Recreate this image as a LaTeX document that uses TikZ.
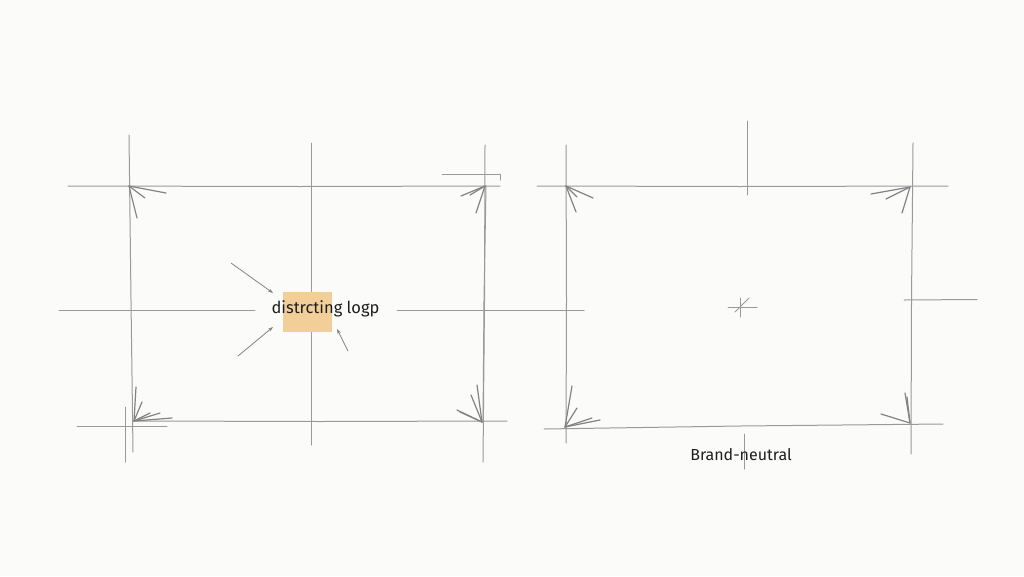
\documentclass[tikz,border=0pt]{standalone}
\usepackage{fontspec}
\setmainfont{Fira Sans}
\usetikzlibrary{arrows.meta}
\definecolor{paper}{HTML}{FBFBFA}
\definecolor{pencil}{HTML}{9A9A9A}
\definecolor{pencildark}{HTML}{838383}
\definecolor{hilite}{HTML}{F2CF98}
\definecolor{ink}{HTML}{1E1E1E}
\tikzset{
  guide/.style={draw=pencil, line width=1pt, line cap=round},
  stroke/.style={draw=pencildark, line width=1.2pt, line cap=round},
  pointer/.style={draw=pencildark, line width=0.8pt, -{Stealth[length=5pt,width=3.5pt]}},
  hand/.style={text=ink, inner sep=0pt},
}
\begin{document}
\begin{tikzpicture}[x=1pt,y=-1pt]
\useasboundingbox (0,0) rectangle (1024,576);
\fill[paper] (0,0) rectangle (1024,576);

% ---------- left frame ----------
\path[guide] (68,186) -- (300,186.5) -- (500,186);
\path[guide] (442,174) -- (500,174) -- (500,180);
\path[guide] (129,135) -- (131,300) -- (133,452);
\path[guide] (125,407) -- (125,462);
\path[guide] (135,421) -- (320,421.5) -- (507,421);
\path[guide] (77,426) -- (167,426);
\path[guide] (485,145) -- (484.5,300) -- (483,462);
\path[guide] (486,186) -- (484,300) -- (483,421);
\path[guide] (311,143) -- (311,445);
\path[guide] (59,310) -- (255,310);
\path[guide] (397,310) -- (584,310);

% highlight and label
\fill[hilite] (283,292) rectangle (332,332);
\node[hand, font=\fontsize{16.5}{20}\selectfont] (logo) at (325.5,309) {distrcting logp};
\coordinate (p1s) at (231,263);
\coordinate (p1e) at (273,293);
\coordinate (p2s) at (238,356);
\coordinate (p2e) at (273,327);
\coordinate (p3s) at (348,351);
\coordinate (p3e) at (337,329);
\draw[pointer] (p1s) -- (p1e);
\draw[pointer] (p2s) -- (p2e);
\draw[pointer] (p3s) -- (p3e);

% corner strokes left frame
\foreach \e in {(166,193),(145,198),(137,218)} \draw[stroke] (129,186) -- \e;
\foreach \e in {(461,196),(470,195),(476,213)} \draw[stroke] (485,186) -- \e;
\foreach \e in {(136,387),(142,402),(150,413),(160,413),(172,418)} \draw[stroke] (134,421) -- \e;
\foreach \e in {(457,410),(460,412),(471,395),(477,385)} \draw[stroke] (482,422) -- \e;

% ---------- right frame ----------
\path[guide] (537,186) -- (740,186.5) -- (948,186);
\path[guide] (566,145) -- (566.5,300) -- (566,443);
\path[guide] (913,143) -- (911.5,300) -- (911,454);
\path[guide] (747,121) -- (747,195);
\path[guide] (544,429) -- (740,426) -- (943,424);
\path[guide] (904,300) -- (977,299.5);
\path[guide] (744,434) -- (744,469);

% center mark
\path[guide] (728,307) -- (757,307);
\path[guide] (740,298) -- (740,317);
\path[guide] (735,312) -- (749,298);

% corner strokes right frame
\foreach \e in {(593,198),(577,197),(576,212)} \draw[stroke] (566,186) -- \e;
\foreach \e in {(871,194),(886,199),(902,213)} \draw[stroke] (910,187) -- \e;
\foreach \e in {(881,414),(905,393),(907,397)} \draw[stroke] (910,423) -- \e;
\foreach \e in {(572,386),(577,408),(592,418),(600,420)} \draw[stroke] (565,427) -- \e;

\node[hand, font=\fontsize{16}{20}\selectfont] (brand) at (741,455) {Brand-neutral};
\end{tikzpicture}
\end{document}
